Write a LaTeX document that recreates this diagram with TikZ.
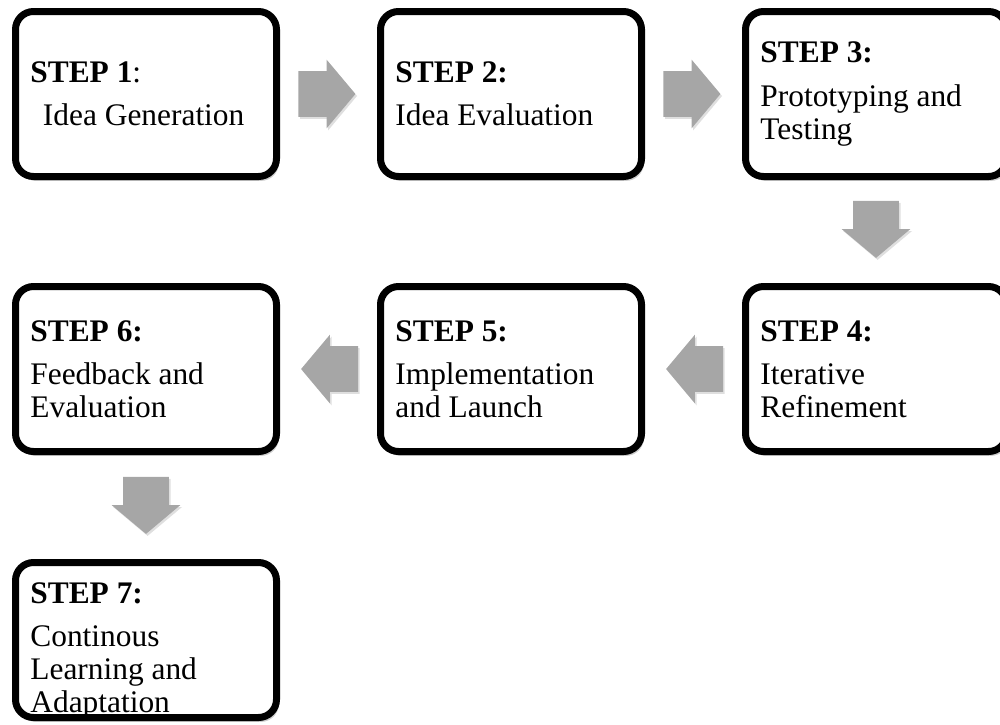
\documentclass[tikz,border=0pt]{standalone}
\usepackage{fontspec}
\setmainfont{Liberation Serif}
\usetikzlibrary{positioning,calc,shapes.arrows,shadows}

\definecolor{arrowgray}{HTML}{A6A6A6}

\begin{document}
\begin{tikzpicture}[x=0.5pt,y=0.5pt,node distance=55pt and 52pt,
  stepbox/.style={draw,fill=white,line width=3.5pt,rounded corners=9pt,outer sep=0pt,
    minimum width=130.5pt,minimum height=82.5pt,
    drop shadow={shadow xshift=1.2pt,shadow yshift=-2.2pt,opacity=.4}},
  steptext/.style={inner sep=0pt,align=left,font={\fontsize{15.7}{16.6}\selectfont}},
  flowarrow/.style={single arrow,fill=arrowgray,draw=none,inner xsep=0pt,inner ysep=11.25pt,
    minimum height=28.5pt,anchor=tail,
    single arrow head extend=5.75pt,single arrow tip angle=100,
    drop shadow={shadow xshift=.8pt,shadow yshift=-1pt,opacity=.25}}]
  \useasboundingbox (0,0) rectangle (1000,-724);
  \clip (0,0) rectangle (1000,-724);
  % the boxes
  \node[stepbox]  (s1)  at (146,-94)  {};
  \node[stepbox]  (s2)  [right=of s1] {};
  \node[stepbox]  (s3)  [right=of s2] {};
  \node[stepbox]  (s4)  [below=of s3] {};
  \node[stepbox]  (s5)  [left=of s4]  {};
  \node[stepbox]  (s6)  [left=of s5]  {};
  \node[stepbox,minimum height=77.5pt]  (s7)  [below=55.5pt of s6] {};
  % the texts
  \node[steptext] (t1) [right=7.25pt of s1.west] {\textbf{STEP 1}:\\[5pt]\hspace{0.4em}Idea Generation};
  \node[steptext] (t2) [right=7.25pt of s2.west] {\textbf{STEP 2:}\\[5pt]Idea Evaluation};
  \node[steptext] (t3) [right=7.25pt of s3.west] {\textbf{STEP 3:}\\[5pt]Prototyping and\\Testing};
  \node[steptext] (t4) [right=7.25pt of s4.west] {\textbf{STEP 4:}\\[5pt]Iterative\\Refinement};
  \node[steptext] (t5) [right=7.25pt of s5.west] {\textbf{STEP 5:}\\[5pt]Implementation\\and Launch};
  \node[steptext] (t6) [right=7.25pt of s6.west] {\textbf{STEP 6:}\\[5pt]Feedback and\\Evaluation};
  \node[steptext,yshift=-5.5pt] (t7) [right=7.25pt of s7.west] {\textbf{STEP 7:}\\[5pt]Continous\\Learning and\\Adaptation};
  % the arrows
  \node[flowarrow]            (a12) at ([xshift=10.75pt]s1.east)  {};
  \node[flowarrow]            (a23) at ([xshift=10.75pt]s2.east)  {};
  \node[flowarrow,rotate=-90] (a34) at ([yshift=-12pt]s3.south)   {};
  \node[flowarrow,rotate=180] (a45) at ([xshift=-11pt]s4.west)    {};
  \node[flowarrow,rotate=180] (a56) at ([xshift=-11pt]s5.west)    {};
  \node[flowarrow,rotate=-90] (a67) at ([yshift=-12.5pt]s6.south) {};
\end{tikzpicture}
\end{document}
